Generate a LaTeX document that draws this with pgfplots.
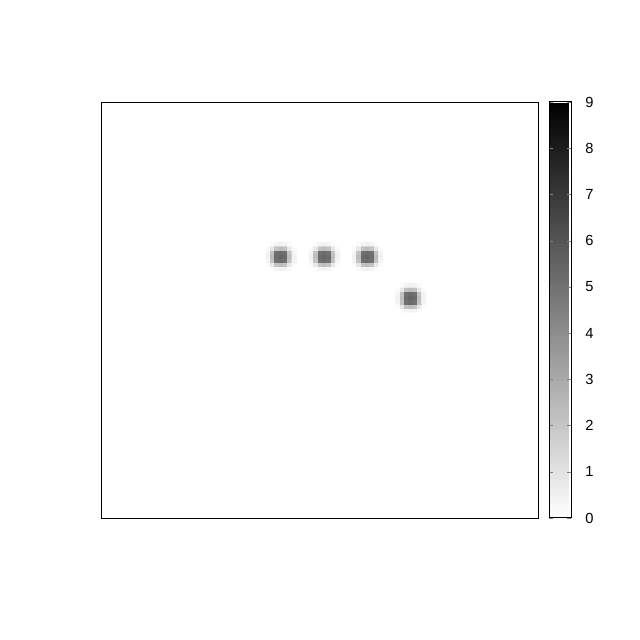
\documentclass[border=0pt]{standalone}
\usepackage{fontspec}
\setmainfont{Liberation Sans}
\usepackage{pgfplots}
\pgfplotsset{compat=1.18}
\usepackage{pgfplotstable}

% one blob, cells relative to its centre
\pgfplotstableread{
dx dy v
-3 -3 0.0
-2 -3 0.15
-1 -3 0.4
0 -3 0.45
1 -3 0.4
2 -3 0.15
3 -3 0.0
-3 -2 0.15
-2 -2 0.8
-1 -2 2.1
0 -2 2.3
1 -2 2.1
2 -2 0.8
3 -2 0.15
-3 -1 0.4
-2 -1 2.1
-1 -1 5.0
0 -1 5.2
1 -1 5.0
2 -1 2.1
3 -1 0.4
-3 0 0.45
-2 0 2.3
-1 0 5.2
0 0 5.4
1 0 5.2
2 0 2.3
3 0 0.45
-3 1 0.4
-2 1 2.1
-1 1 5.0
0 1 5.2
1 1 5.0
2 1 2.1
3 1 0.4
-3 2 0.15
-2 2 0.8
-1 2 2.1
0 2 2.3
1 2 2.1
2 2 0.8
3 2 0.15
-3 3 0.0
-2 3 0.15
-1 3 0.4
0 3 0.45
1 3 0.4
2 3 0.15
3 3 0.0
}\blob

\begin{document}
\begin{tikzpicture}
\begin{axis}[
  at={(0,0)}, anchor=south west,
  scale only axis, width=327pt, height=312pt,
  xmin=-0.5, xmax=100.5, ymin=-0.5, ymax=100.5,
  xtick=\empty, ytick=\empty,
  axis line style={line width=0.75pt},
  colormap={gnugray}{color=(white) color=(black)},
  point meta min=0, point meta max=9,
  colorbar,
  colorbar style={
    at={(parent axis.north east)}, anchor=north west, xshift=0pt,
    width=16.5pt,
    ytick={0,1,...,9},
    tick align=inside,
    major tick length=3pt,
    ytick pos=both,
    yticklabel pos=right,
    yticklabel style={font=\fontsize{11}{13}\selectfont, xshift=7pt},
    axis line style={line width=0.75pt},
    /pgf/number format/assume math mode=true,
  },
]
\addplot[matrix plot*, mesh/cols=7, point meta=explicit]
  table[x expr=\thisrow{dx}+41, y expr=\thisrow{dy}+63, meta=v] {\blob};
\addplot[matrix plot*, mesh/cols=7, point meta=explicit]
  table[x expr=\thisrow{dx}+51, y expr=\thisrow{dy}+63, meta=v] {\blob};
\addplot[matrix plot*, mesh/cols=7, point meta=explicit]
  table[x expr=\thisrow{dx}+61, y expr=\thisrow{dy}+63, meta=v] {\blob};
\addplot[matrix plot*, mesh/cols=7, point meta=explicit]
  table[x expr=\thisrow{dx}+71, y expr=\thisrow{dy}+53, meta=v] {\blob};
\end{axis}
\path[use as bounding box] (-76.5pt,-91.5pt) rectangle (403.5pt,388.5pt);
\end{tikzpicture}
\end{document}
